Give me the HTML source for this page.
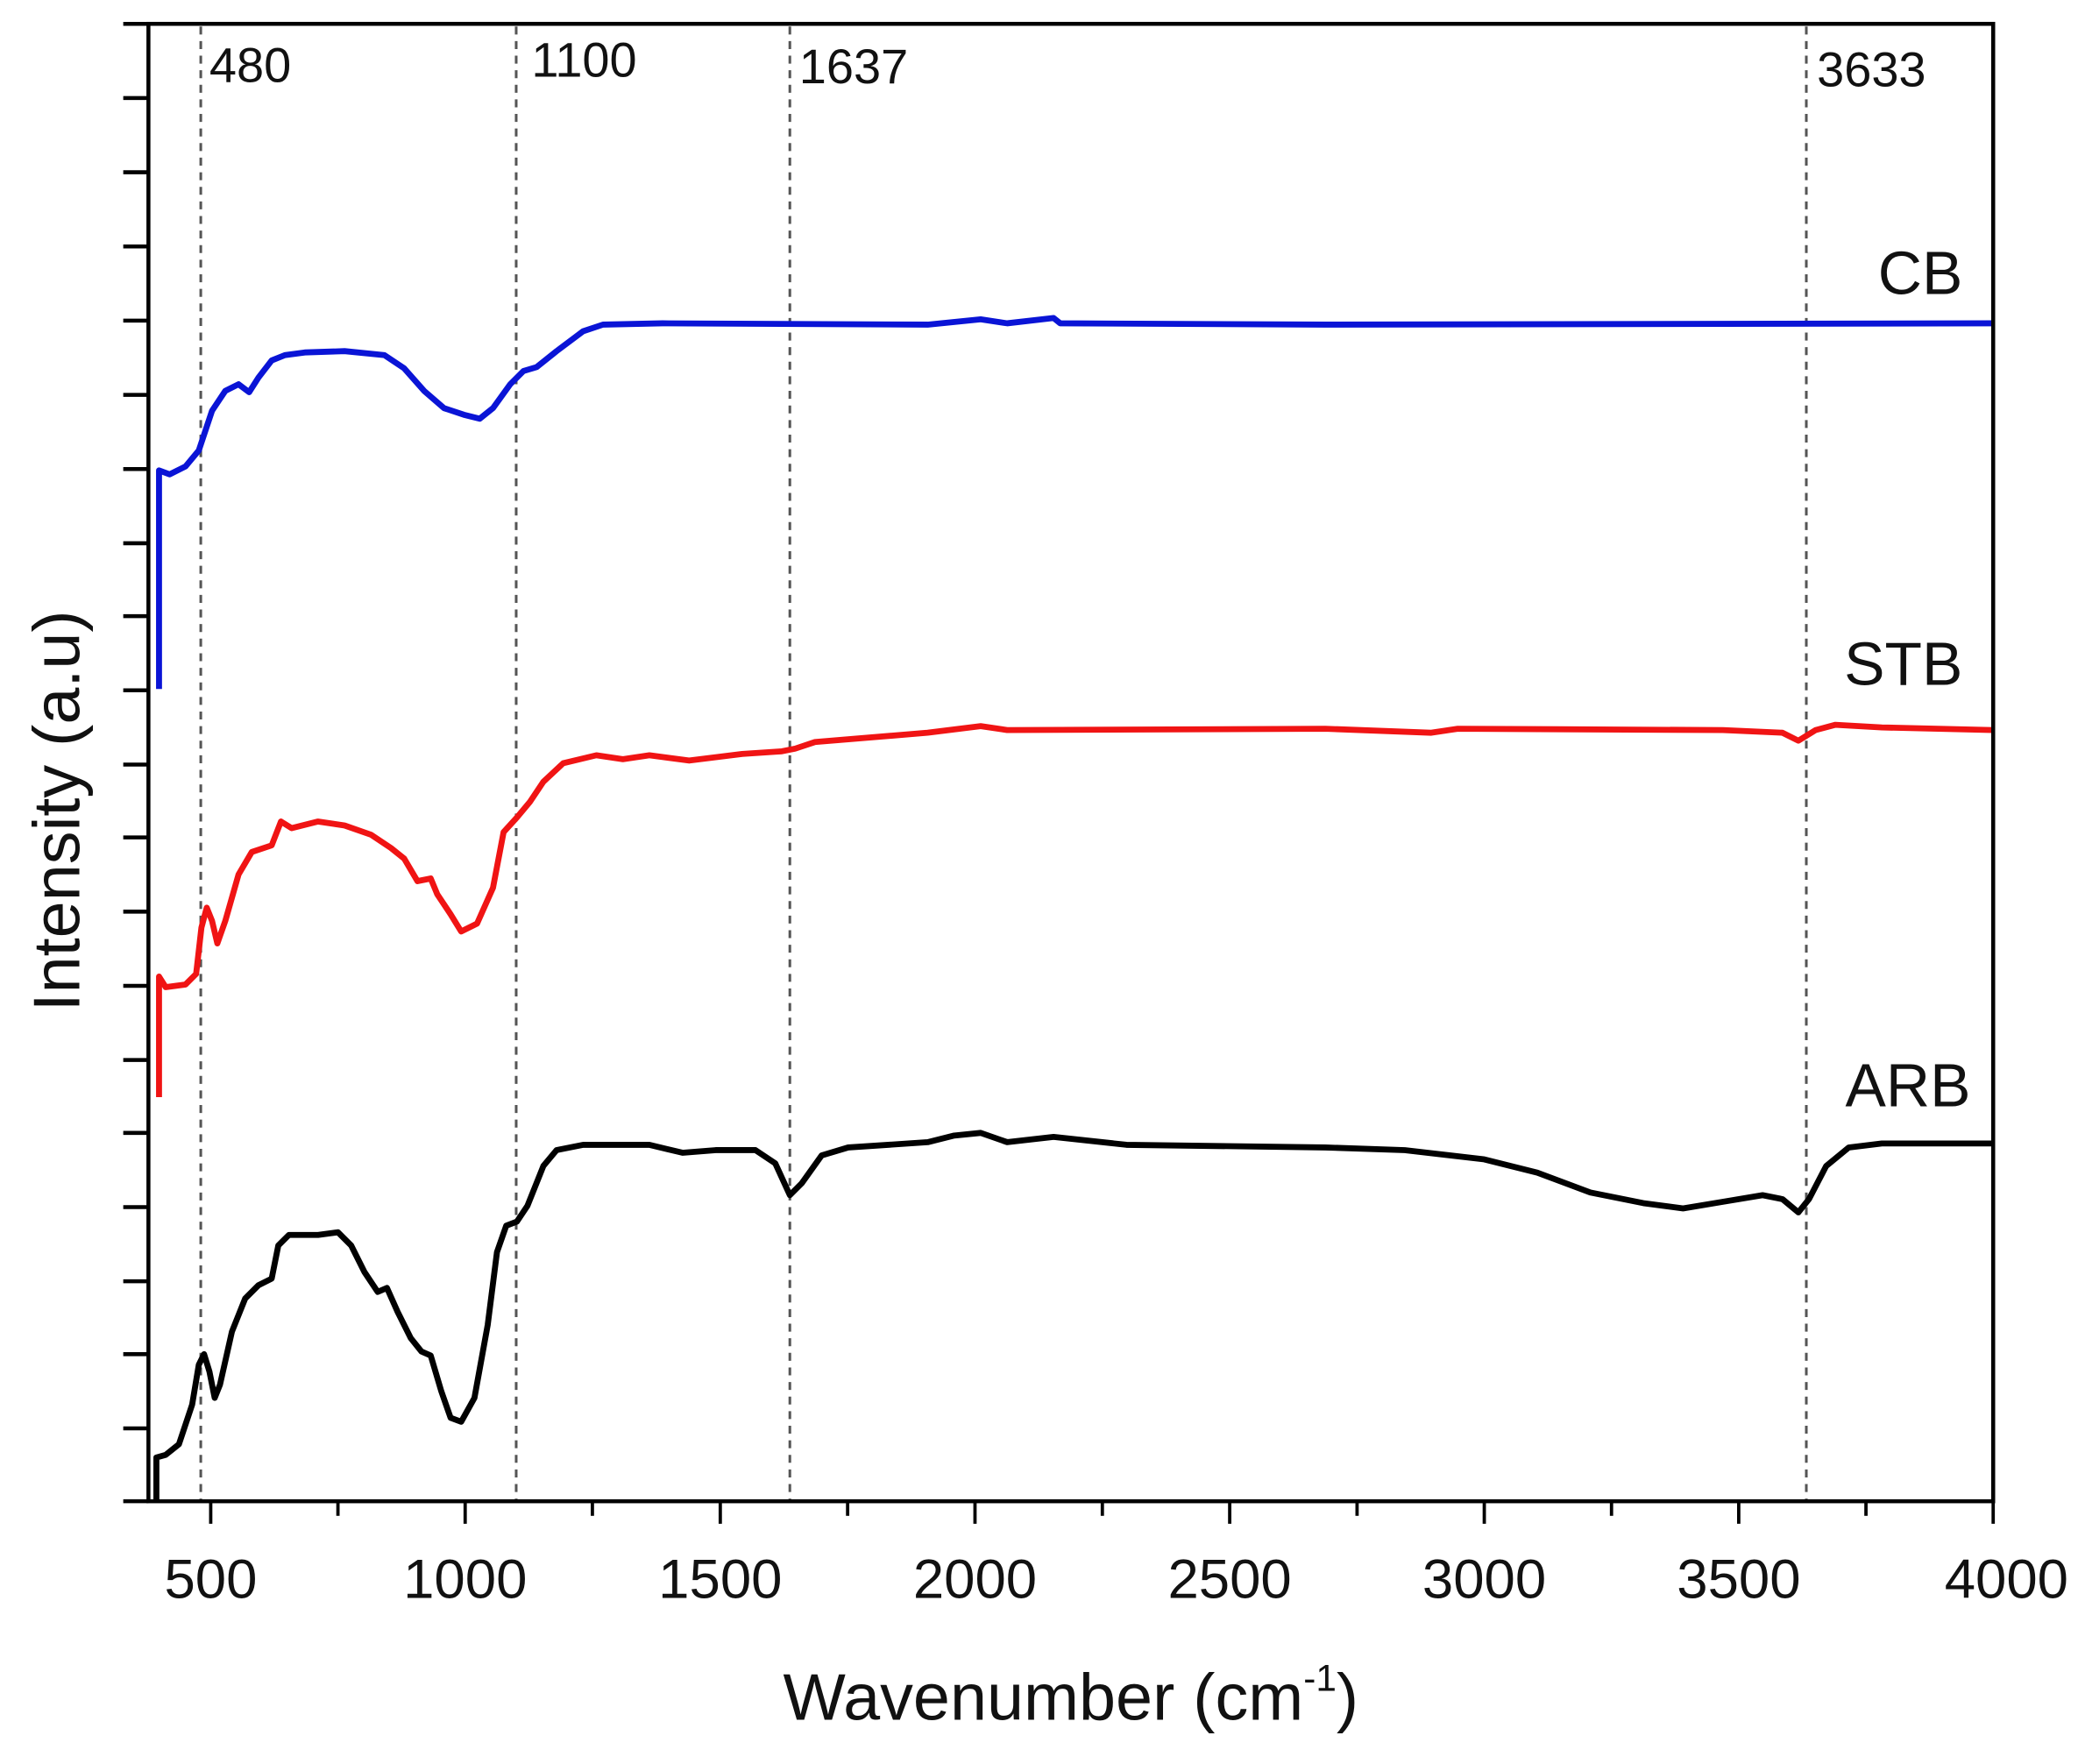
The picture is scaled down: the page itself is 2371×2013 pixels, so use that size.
<!DOCTYPE html>
<html><head><style>html,body{margin:0;padding:0;background:#fff}svg{display:block}</style></head>
<body>
<svg width="2371" height="2013" viewBox="0 0 1568 1331.3" preserveAspectRatio="none" xmlns="http://www.w3.org/2000/svg" font-family="Liberation Sans, Arial, sans-serif">
<rect width="1568" height="1332" fill="#fff"/>
<g stroke="#555" stroke-width="2" stroke-dasharray="6,5">
<line x1="151.5" y1="20" x2="151.5" y2="1133"/>
<line x1="389.5" y1="20" x2="389.5" y2="1133"/>
<line x1="596" y1="20" x2="596" y2="1133"/>
<line x1="1363" y1="20" x2="1363" y2="1133"/>
</g>
<g font-size="37" fill="#111">
<text x="158" y="62">480</text><text x="401" y="58">1100</text><text x="603" y="63">1637</text><text x="1371" y="65">3633</text>
</g>
<g fill="none" stroke-width="4.5" stroke-linejoin="round">
<polyline stroke="#0a14d6" points="120,520 120,355 128,358 140,352 150,340 160,310 170,295 180,290 188,296 195,285 205,272 215,268 230,266 260,265 290,268 305,278 320,295 335,308 350,313 362,316 372,308 385,290 395,280 405,277 420,265 440,250 455,245 500,244 700,245 740,241 760,244 795,240 800,244 1000,245 1504,244"/>
<polyline stroke="#f01414" points="120,828 120,737 125,745 140,743 148,735 152,700 156,685 160,695 164,712 170,695 180,660 190,643 205,638 212,620 220,625 240,620 260,623 280,630 295,640 305,648 315,665 325,663 330,675 340,690 348,703 360,697 372,670 380,628 390,617 400,605 410,590 425,576 450,570 470,573 490,570 520,574 560,569 590,567 600,565 615,560 700,553 740,548 760,551 1000,550 1080,553 1100,550 1300,551 1345,553 1357,559 1370,551 1385,547 1420,549 1504,551"/>
<polyline stroke="#000" points="118,1133 118,1100 125,1098 135,1090 145,1060 150,1030 154,1022 158,1035 162,1055 166,1045 175,1005 185,980 195,970 205,965 210,940 218,932 240,932 255,930 265,940 275,960 285,975 292,972 300,990 310,1010 318,1020 325,1023 333,1050 340,1070 348,1073 358,1055 368,1000 375,945 382,925 390,922 398,910 410,880 420,868 440,864 490,864 515,870 540,868 570,868 585,878 596,902 605,893 620,872 640,866 700,862 720,857 740,855 760,862 795,858 850,864 1000,866 1060,868 1120,875 1160,885 1200,900 1240,908 1270,912 1300,907 1330,902 1345,905 1357,915 1365,905 1378,880 1395,866 1420,863 1504,863"/>
</g>
<g font-size="46" fill="#111" text-anchor="end">
<text x="1481" y="222">CB</text><text x="1481" y="517">STB</text><text x="1487" y="835">ARB</text>
</g>
<g stroke="#000" stroke-width="3" fill="none">
<rect x="112" y="18" width="1392" height="1115"/>
<line x1="93" y1="18" x2="112" y2="18"/>
<line x1="93" y1="74" x2="112" y2="74"/><line x1="93" y1="130" x2="112" y2="130"/><line x1="93" y1="186" x2="112" y2="186"/><line x1="93" y1="242" x2="112" y2="242"/><line x1="93" y1="298" x2="112" y2="298"/><line x1="93" y1="354" x2="112" y2="354"/><line x1="93" y1="410" x2="112" y2="410"/><line x1="93" y1="465" x2="112" y2="465"/><line x1="93" y1="521" x2="112" y2="521"/><line x1="93" y1="577" x2="112" y2="577"/><line x1="93" y1="632" x2="112" y2="632"/><line x1="93" y1="688" x2="112" y2="688"/><line x1="93" y1="744" x2="112" y2="744"/><line x1="93" y1="800" x2="112" y2="800"/><line x1="93" y1="855" x2="112" y2="855"/><line x1="93" y1="911" x2="112" y2="911"/><line x1="93" y1="967" x2="112" y2="967"/><line x1="93" y1="1022" x2="112" y2="1022"/><line x1="93" y1="1078" x2="112" y2="1078"/><line x1="93" y1="1133" x2="112" y2="1133"/>
</g>
<g stroke="#000" stroke-width="2.5">
<line x1="159" y1="1133" x2="159" y2="1150"/><line x1="351" y1="1133" x2="351" y2="1150"/><line x1="543.5" y1="1133" x2="543.5" y2="1150"/><line x1="735.7" y1="1133" x2="735.7" y2="1150"/><line x1="927.9" y1="1133" x2="927.9" y2="1150"/><line x1="1120" y1="1133" x2="1120" y2="1150"/><line x1="1312" y1="1133" x2="1312" y2="1150"/><line x1="1504" y1="1133" x2="1504" y2="1150"/>
<line x1="255" y1="1133" x2="255" y2="1144"/><line x1="447" y1="1133" x2="447" y2="1144"/><line x1="639.6" y1="1133" x2="639.6" y2="1144"/><line x1="831.8" y1="1133" x2="831.8" y2="1144"/><line x1="1024" y1="1133" x2="1024" y2="1144"/><line x1="1216" y1="1133" x2="1216" y2="1144"/><line x1="1408" y1="1133" x2="1408" y2="1144"/>
</g>
<g font-size="42" fill="#111" text-anchor="middle">
<text x="159" y="1206">500</text><text x="351" y="1206">1000</text><text x="543.5" y="1206">1500</text><text x="735.7" y="1206">2000</text><text x="927.9" y="1206">2500</text><text x="1120" y="1206">3000</text><text x="1312" y="1206">3500</text><text x="1514" y="1206">4000</text>
</g>
<text x="808" y="1298" font-size="50" text-anchor="middle" fill="#111">Wavenumber (cm<tspan font-size="28" dy="-22">-1</tspan><tspan dy="22">)</tspan></text>
<text transform="translate(60,612) rotate(-90)" font-size="50" text-anchor="middle" fill="#111">Intensity (a.u)</text>
</svg>
</body></html>
